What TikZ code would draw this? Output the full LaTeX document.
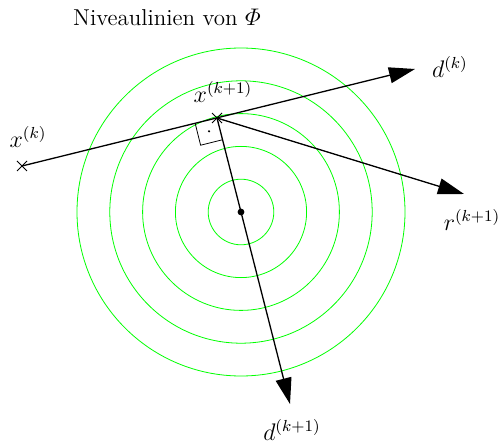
\documentclass[tikz,border=0pt]{standalone}
\usepackage{amsmath}
\usetikzlibrary{arrows.meta,calc}
\begin{document}
\begin{tikzpicture}[x=0.5pt,y=-0.5pt,
  level/.style={draw={rgb,255:red,0;green,255;blue,0},line width=0.4pt},
  vec/.style={line width=0.65pt,-{Triangle[length=13pt,width=8pt]}},
  lbl/.style={inner sep=0pt,font=\fontsize{11.5pt}{14pt}\selectfont},
  crossmark/.style={line width=0.5pt}]
\useasboundingbox (0,0) rectangle (504,444);
\coordinate (c) at (241,212);
\foreach \r in {32.8,65.6,98.4,131.2,164} \draw[level] (c) circle[radius=\r];
\coordinate (xk) at (22,166);
\coordinate (xk1) at (217,118);
\coordinate (dk) at (415,69);
\coordinate (rk1) at (464,194);
\coordinate (dk1) at (290,404);
\draw[vec] (xk) -- (dk);
\draw[vec] (xk1) -- (rk1);
\draw[vec] (xk1) -- (dk1);
\fill (c) circle[radius=3.4];
\foreach \p in {xk,xk1} \draw[crossmark] ($(\p)+(-5,-5)$) -- ($(\p)+(5,5)$) ($(\p)+(-5,5)$) -- ($(\p)+(5,-5)$);
% right angle
\draw[line width=0.4pt] ($(xk1)+(-21.8,5.4)$) -- ($(xk1)+(-21.8,5.4)+(5.4,21.8)$) -- ($(xk1)+(5.4,21.8)$);
\fill ($(xk1)+(-8,13.3)$) circle[radius=1.2];
\node[lbl] (t) at (167,17) {Niveaulinien von $\varPhi$};
\node[lbl] (lxk) at (28,137) {$x^{(k)}$};
\node[lbl] (lxk1) at (223,92) {$x^{(k+1)}$};
\node[lbl] (ldk) at (450,67) {$d^{(k)}$};
\node[lbl] (lrk1) at (472,220) {$r^{(k+1)}$};
\node[lbl] (ldk1) at (292,430) {$d^{(k+1)}$};
\end{tikzpicture}
\end{document}
